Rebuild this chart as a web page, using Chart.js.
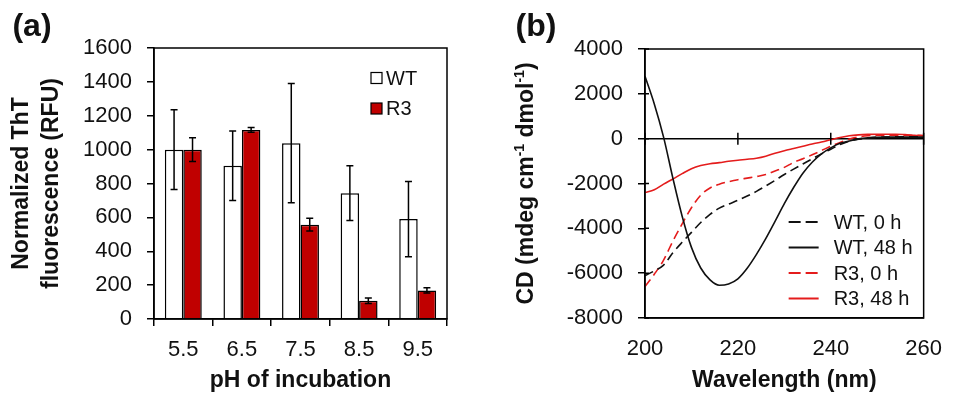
<!DOCTYPE html>
<html>
<head>
<meta charset="utf-8">
<script src="https://cdn.jsdelivr.net/npm/chart.js@4.4.1/dist/chart.umd.min.js"></script>
<style>
    body { margin: 0; background: #fff; }
    #wrap { position: relative; width: 960px; height: 395px; }
    canvas { position: absolute; top: 0; }
</style>
</head>
<body>
<div id="wrap">
    <canvas id="bars" width="480" height="395" style="left:0"></canvas>
    <canvas id="cd" width="480" height="395" style="left:480px"></canvas>
</div>
<script>
/*--------------------DATA--------------------*/
const phLabels = ['5.5', '6.5', '7.5', '8.5', '9.5'];
const wtMean = [1000, 905, 1038, 743, 590];
const wtErr = [235, 205, 352, 162, 222];
const r3Mean = [1000, 1116, 557, 108, 169];
const r3Err = [70, 14, 38, 16, 15];

const wavelength = [200, 202, 204, 206, 208, 210, 212, 214, 216, 218, 220, 222, 224, 226, 228, 230,
    232, 234, 236, 238, 240, 242, 244, 246, 248, 250, 252, 254, 256, 258, 260];
const wt0h = [-6110, -5900, -5640, -5090, -4620, -4180, -3740, -3380, -3100, -2920, -2750, -2560, -2350, -2110, -1860, -1600,
    -1360, -1130, -900, -680, -470, -260, -110, -20, 30, 60, 70, 80, 80, 80, 80];
const wt48h = [2780, 1550, 70, -1760, -3460, -4850, -5770, -6300, -6540, -6480, -6250, -5780, -5160, -4460, -3690, -2900,
    -2180, -1540, -1050, -680, -410, -210, -100, -10, 40, 60, 70, 70, 70, 70, 70];
const r30h = [-6600, -6050, -5420, -4570, -3800, -3080, -2520, -2200, -2030, -1920, -1830, -1760, -1690, -1600, -1440, -1280,
    -1060, -900, -720, -530, -335, -170, -20, 80, 130, 150, 160, 160, 160, 150, 140];
const r348h = [-2400, -2280, -2030, -1800, -1560, -1340, -1200, -1120, -1070, -1010, -960, -920, -870, -780, -650, -540,
    -440, -340, -240, -150, -50, 50, 130, 170, 190, 200, 200, 200, 180, 150, 130];

/*--------------------STYLE--------------------*/
const FONT = '"Liberation Sans", Arial, sans-serif';
const INK = '#111';
const RED = 'rgb(228,28,28)';
Chart.defaults.font.family = FONT;
Chart.defaults.color = INK;

const toText = (v) => String(v);

/*--------------------PLUGINS--------------------*/
const frame = {
    id: 'frame',
    afterDraw(chart) {
        const { ctx, chartArea: a } = chart;
        ctx.save();
        ctx.strokeStyle = '#000';
        ctx.lineWidth = 1.5;
        ctx.strokeRect(a.left, a.top, a.right - a.left, a.bottom - a.top);
        ctx.restore();
    }
};

const panelLabel = {
    id: 'panelLabel',
    afterDraw(chart, args, opts) {
        const ctx = chart.ctx;
        ctx.save();
        ctx.font = 'bold 32px ' + FONT;
        ctx.fillStyle = INK;
        ctx.textAlign = 'center';
        ctx.textBaseline = 'middle';
        ctx.fillText(opts.text, opts.x, opts.y);
        ctx.restore();
    }
};

const errorBars = {
    id: 'errorBars',
    afterDatasetsDraw(chart) {
        const ctx = chart.ctx;
        const yScale = chart.scales.y;
        ctx.save();
        ctx.strokeStyle = '#000';
        ctx.lineWidth = 1.5;
        chart.data.datasets.forEach((ds, i) => {
            chart.getDatasetMeta(i).data.forEach((bar, j) => {
                const top = yScale.getPixelForValue(ds.data[j] + ds.errors[j]);
                const bot = yScale.getPixelForValue(ds.data[j] - ds.errors[j]);
                ctx.beginPath();
                ctx.moveTo(bar.x, top); ctx.lineTo(bar.x, bot);
                ctx.moveTo(bar.x - 3.5, top); ctx.lineTo(bar.x + 3.5, top);
                ctx.moveTo(bar.x - 3.5, bot); ctx.lineTo(bar.x + 3.5, bot);
                ctx.stroke();
            });
        });
        ctx.restore();
    }
};

const barLegend = {
    id: 'barLegend',
    afterDraw(chart) {
        const { ctx, chartArea } = chart;
        ctx.save();
        ctx.font = '20px ' + FONT;
        ctx.textBaseline = 'middle';
        chart.data.datasets.forEach((ds, i) => {
            const x = chartArea.right - 76;
            const y = chartArea.top + 30 + i * 30.5;
            ctx.fillStyle = ds.backgroundColor;
            ctx.fillRect(x, y - 5.5, 11, 11);
            ctx.strokeStyle = '#000';
            ctx.lineWidth = 1.2;
            ctx.strokeRect(x, y - 5.5, 11, 11);
            ctx.fillStyle = INK;
            ctx.fillText(ds.label, x + 15, y + 1);
        });
        ctx.restore();
    }
};

const lineLegend = {
    id: 'lineLegend',
    afterDraw(chart) {
        const { ctx, chartArea } = chart;
        ctx.save();
        ctx.font = '20px ' + FONT;
        ctx.textBaseline = 'middle';
        chart.data.datasets.forEach((ds, i) => {
            const x = chartArea.right - 135;
            const y = chartArea.top + 173 + i * 25.5;
            ctx.strokeStyle = ds.borderColor;
            ctx.lineWidth = 2;
            ctx.setLineDash(ds.borderDash ? [12, 5] : []);
            ctx.beginPath(); ctx.moveTo(x, y); ctx.lineTo(x + 30, y); ctx.stroke();
            ctx.setLineDash([]);
            ctx.fillStyle = INK;
            ctx.fillText(ds.label, x + 45, y + 1);
        });
        ctx.restore();
    }
};

// ticks crossing the zero line and the inner part of the y ticks
const crossTicks = {
    id: 'crossTicks',
    afterDraw(chart) {
        const { ctx, chartArea } = chart;
        const xs = chart.scales.x, ys = chart.scales.y;
        const y0 = ys.getPixelForValue(0);
        ctx.save();
        ctx.strokeStyle = '#000';
        ctx.lineWidth = 1.5;
        ctx.beginPath();
        xs.ticks.forEach((t) => {
            const px = xs.getPixelForValue(t.value);
            ctx.moveTo(px, y0 - 6); ctx.lineTo(px, y0 + 6);
        });
        ys.ticks.forEach((t) => {
            const py = ys.getPixelForValue(t.value);
            ctx.moveTo(chartArea.left, py); ctx.lineTo(chartArea.left + 4, py);
        });
        ctx.stroke();
        ctx.restore();
    }
};

// rotated y title with superscripts
const cdTitle = {
    id: 'cdTitle',
    afterDraw(chart) {
        const { ctx, chartArea } = chart;
        const parts = [['CD (mdeg cm', false], ['-1', true], [' dmol', false], ['-1', true], [')', false]];
        const big = 'bold 23px ' + FONT, small = 'bold 14px ' + FONT;
        ctx.save();
        ctx.translate(47, (chartArea.top + chartArea.bottom) / 2);
        ctx.rotate(-Math.PI / 2);
        ctx.fillStyle = INK;
        ctx.textBaseline = 'middle';
        let total = 0;
        parts.forEach(([t, sup]) => { ctx.font = sup ? small : big; total += ctx.measureText(t).width; });
        let x = -total / 2;
        parts.forEach(([t, sup]) => {
            ctx.font = sup ? small : big;
            ctx.fillText(t, x, sup ? -7 : 0);
            x += ctx.measureText(t).width;
        });
        ctx.restore();
    }
};

/*--------------------PANEL A--------------------*/
let barChart = new Chart(document.getElementById('bars'), {
    type: 'bar',
    data: {
        labels: phLabels,
        datasets: [
            { label: 'WT', data: wtMean, errors: wtErr, backgroundColor: '#fff', borderColor: '#000', borderWidth: 1.5 },
            { label: 'R3', data: r3Mean, errors: r3Err, backgroundColor: '#c00000', borderColor: '#000', borderWidth: 1.5 }
        ]
    },
    options: {
        responsive: false,
        animation: false,
        categoryPercentage: 0.63,
        barPercentage: 1,
        layout: { padding: { top: 48, right: 33, left: 0, bottom: 0 } },
        plugins: {
            legend: { display: false },
            tooltip: { enabled: false },
            panelLabel: { text: '(a)', x: 32, y: 27 }
        },
        scales: {
            x: {
                ticks: { padding: 11, font: { size: 22 }, color: INK },
                grid: { drawOnChartArea: false, tickLength: 7, tickColor: '#000', lineWidth: 1.5 },
                border: { color: '#000', width: 1.5 },
                title: { display: true, text: 'pH of incubation', font: { size: 23, weight: 'bold' }, padding: { top: 0, bottom: 1 }, color: INK },
                afterFit(scale) { scale.height = 76; }
            },
            y: {
                min: 0,
                max: 1600,
                ticks: { stepSize: 200, padding: 15, font: { size: 22 }, color: INK, callback: toText },
                grid: { drawOnChartArea: false, tickLength: 7, tickColor: '#000', lineWidth: 1.5 },
                border: { color: '#000', width: 1.5 },
                title: {
                    display: true,
                    text: ['Normalized ThT', 'fluorescence (RFU)'],
                    font: { size: 23, weight: 'bold', lineHeight: 1.3 },
                    padding: { top: 7, bottom: 0 },
                    color: INK
                },
                afterFit(scale) { scale.width = 154; }
            }
        }
    },
    plugins: [errorBars, frame, barLegend, panelLabel]
});

/*--------------------PANEL B--------------------*/
const toPoints = (ys) => wavelength.map((w, i) => ({ x: w, y: ys[i] }));

let cdChart = new Chart(document.getElementById('cd'), {
    type: 'line',
    data: {
        datasets: [
            { label: 'WT, 0 h', data: toPoints(wt0h), borderColor: INK, borderDash: [9, 5] },
            { label: 'WT, 48 h', data: toPoints(wt48h), borderColor: INK },
            { label: 'R3, 0 h', data: toPoints(r30h), borderColor: RED, borderDash: [9, 5] },
            { label: 'R3, 48 h', data: toPoints(r348h), borderColor: RED }
        ]
    },
    options: {
        responsive: false,
        animation: false,
        elements: {
            line: { borderWidth: 1.6, cubicInterpolationMode: 'monotone' },
            point: { radius: 0 }
        },
        layout: { padding: { top: 49, right: 20, left: 0, bottom: 0 } },
        plugins: {
            legend: { display: false },
            tooltip: { enabled: false },
            panelLabel: { text: '(b)', x: 56, y: 27 }
        },
        scales: {
            x: {
                type: 'linear',
                min: 200,
                max: 260,
                ticks: { stepSize: 20, padding: 18, font: { size: 22 }, color: INK, callback: toText },
                grid: { drawOnChartArea: false, drawTicks: false },
                border: { color: '#000', width: 1.5 },
                title: { display: true, text: 'Wavelength (nm)', font: { size: 23, weight: 'bold' }, padding: { top: 0, bottom: 1 }, color: INK },
                afterFit(scale) { scale.height = 77; }
            },
            y: {
                min: -8000,
                max: 4000,
                ticks: { stepSize: 2000, padding: 15, font: { size: 22 }, color: INK, callback: toText },
                grid: {
                    color: (c) => (c.tick && c.tick.value === 0 ? '#000' : 'rgba(0,0,0,0)'),
                    tickColor: '#000',
                    tickLength: 7,
                    lineWidth: 1.5
                },
                border: { color: '#000', width: 1.5 },
                afterFit(scale) { scale.width = 165; }
            }
        }
    },
    plugins: [frame, crossTicks, lineLegend, cdTitle, panelLabel]
});
</script>
</body>
</html>
